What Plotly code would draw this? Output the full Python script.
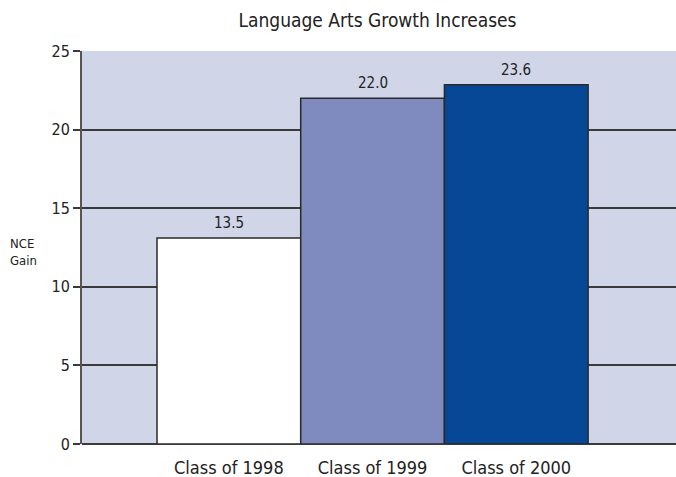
import plotly.graph_objects as go

categories = ["Class of 1998", "Class of 1999", "Class of 2000"]
bar_values = [13.1, 22.0, 22.85]
value_labels = ["13.5", "22.0", "23.6"]
bar_colors = ["#FFFFFF", "#7F8BBF", "#064796"]
y_ticks = [0, 5, 10, 15, 20, 25]

FONT = "Liberation Sans Narrow, DejaVu Sans Condensed, Arial Narrow, sans-serif"
DARK = "#3a3a3a"

W, H = 676, 477
L, R, T, B = 82, 0, 51, 33
PW = W - L - R
PH = H - T - B

fig = go.Figure(
    go.Bar(
        x=categories,
        y=bar_values,
        marker=dict(color=bar_colors, line=dict(color="#2a2a2a", width=1.5)),
        hoverinfo="skip",
    )
)

for cat, val, lab in zip(categories, bar_values, value_labels):
    fig.add_annotation(
        x=cat,
        y=val,
        text=lab,
        showarrow=False,
        yanchor="bottom",
        yshift=4,
        font=dict(family=FONT, size=15, color="#222222"),
    )

fig.update_layout(
    width=W,
    height=H,
    margin=dict(l=L, r=R, t=T, b=B),
    paper_bgcolor="white",
    plot_bgcolor="#D0D5E8",
    bargap=0,
    showlegend=False,
    font=dict(family=FONT, size=14, color="#222222"),
    title=dict(
        text="Language Arts Growth Increases",
        x=377.5 / W,
        xanchor="center",
        y=1 - 20 / H,
        yanchor="middle",
        font=dict(family=FONT, size=19, color="#222222"),
    ),
)

fig.update_xaxes(
    range=[-1.022, -1.022 + PW / 143.7],
    showgrid=False,
    showline=False,
    ticks="",
    ticklabelstandoff=11,
    tickfont=dict(family=FONT, size=18, color="#222222"),
)

fig.update_yaxes(
    range=[0, 25],
    tickvals=y_ticks,
    showgrid=True,
    gridcolor=DARK,
    gridwidth=2,
    zeroline=True,
    zerolinecolor=DARK,
    zerolinewidth=2,
    showline=True,
    linecolor="#555555",
    linewidth=2,
    ticks="outside",
    ticklen=7,
    tickcolor=DARK,
    tickwidth=2,
    tickfont=dict(family=FONT, size=16, color="#222222"),
)

fig.add_annotation(
    text="NCE<br>Gain",
    xref="paper",
    yref="paper",
    x=-(L - 8) / PW,
    y=(444 - 252) / PH,
    xanchor="left",
    yanchor="middle",
    showarrow=False,
    align="left",
    font=dict(family=FONT, size=13, color="#222222"),
)

fig.write_html(
    "out.html",
    config={"displayModeBar": False, "staticPlot": True},
    post_script="document.body.style.margin='0';document.body.style.overflow='hidden';",
)
